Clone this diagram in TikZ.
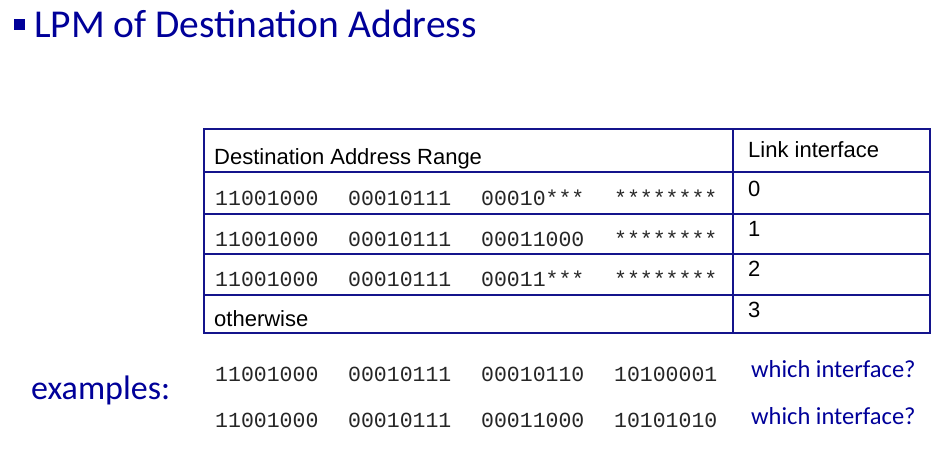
\documentclass[tikz,border=0pt]{standalone}
\usepackage{fontspec}
\setmainfont{Liberation Sans}
\setmonofont{Liberation Mono}
\newfontfamily\calibfont{Carlito}
\definecolor{slideblue}{RGB}{0,0,153}
\definecolor{rulenavy}{RGB}{20,20,140}
% one address, four octets in fixed columns
\newcommand{\addr}[4]{\makebox[133pt][l]{#1}\makebox[133pt][l]{#2}\makebox[133pt][l]{#3}#4}

\begin{document}
\begin{tikzpicture}[x=1pt,y=-1pt,
    every node/.style={inner sep=0pt,anchor=base west},
    title/.style={font=\calibfont\fontsize{39.5}{45}\selectfont,text=slideblue},
    cell/.style={font=\fontsize{22}{26}\selectfont,text=black},
    bits/.style={font=\ttfamily\fontsize{21.5}{25}\selectfont,text=black!85},
    ask/.style={font=\calibfont\fontsize{24.5}{28}\selectfont,text=slideblue}]
  \useasboundingbox (0,0) rectangle (937,450);

  % Title
  \fill[slideblue] (14,19) rectangle (25,30);
  \node[title] (title) at (34,37) {LPM of Destination Address};

  % Table frame
  \draw[rulenavy, line width=2pt] (204,129) rectangle (930,333);
  \draw[rulenavy, line width=2pt]
    (204,172) -- (930,172) (204,214) -- (930,214)
    (204,254) -- (930,254) (204,295) -- (930,295)
    (733,129) -- (733,333);

  % Table entries
  \node[cell] (range) at (214,164.5) {Destination Address Range};
  \node[cell] (link) at (748,157.5) {Link interface};
  \node[bits] (row0) at (215,205.5) {\addr{11001000}{00010111}{00010***}{********}};
  \node[cell] (if0) at (748,196) {0};
  \node[bits] (row1) at (215,246) {\addr{11001000}{00010111}{00011000}{********}};
  \node[cell] (if1) at (748,236) {1};
  \node[bits] (row2) at (215,286.5) {\addr{11001000}{00010111}{00011***}{********}};
  \node[cell] (if2) at (748,276.5) {2};
  \node[cell] (other) at (214,326) {otherwise};
  \node[cell] (if3) at (748,317) {3};

  % Examples
  \node[ask, font=\calibfont\fontsize{34}{38}\selectfont] (examples) at (31,399) {examples:};
  \node[bits] (ex1) at (215,381) {\addr{11001000}{00010111}{00010110}{10100001}};
  \node[ask] (q1) at (751,377) {which interface?};
  \node[bits] (ex2) at (215,427) {\addr{11001000}{00010111}{00011000}{10101010}};
  \node[ask] (q2) at (751,424) {which interface?};
\end{tikzpicture}
\end{document}
